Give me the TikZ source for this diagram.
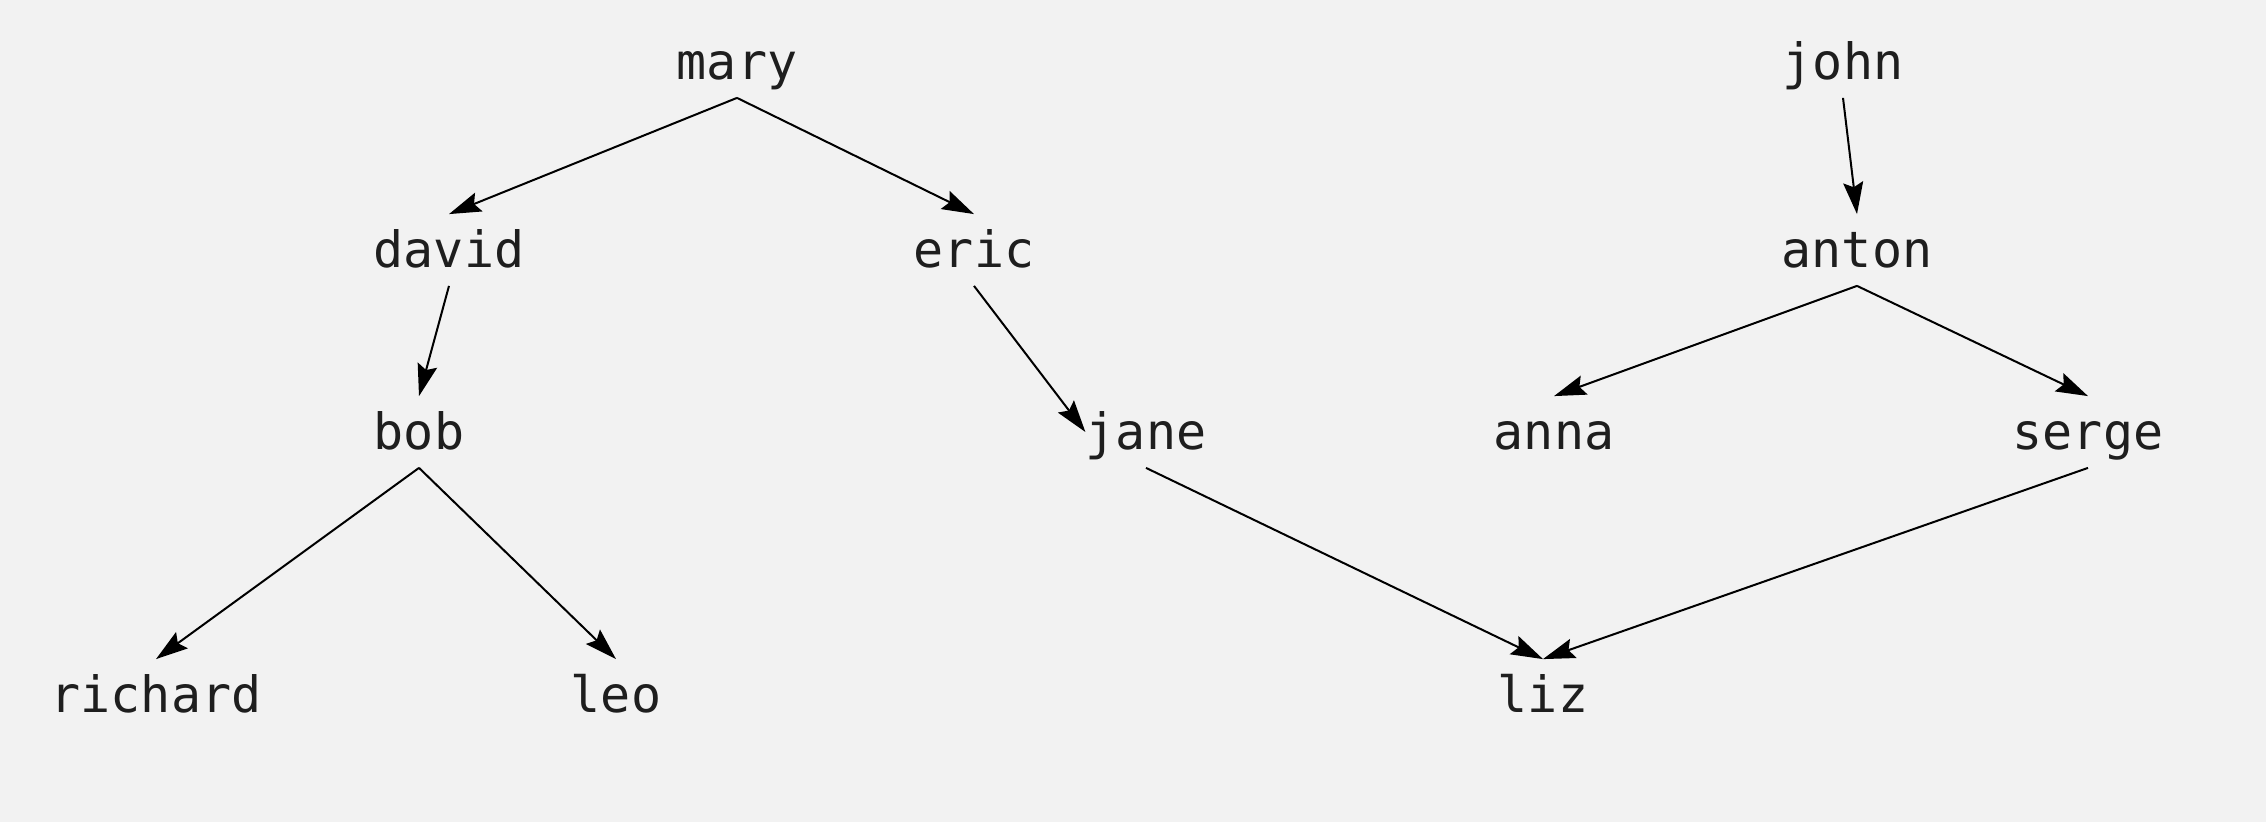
\documentclass[tikz,border=0pt]{standalone}
\usepackage{fontspec}
\setmonofont{DejaVu Sans Mono}
\usetikzlibrary{arrows.meta}
\definecolor{bg}{HTML}{F2F2F2}
\definecolor{txt}{HTML}{1E1E1E}
\begin{document}
\begin{tikzpicture}[x=0.5pt,y=-0.5pt,
  person/.style={font=\ttfamily\fontsize{25}{30}\selectfont, text=txt, inner sep=0pt,
    text height=21pt, text depth=3pt, minimum height=35.5pt},
  link/.style={-{Stealth[length=16pt,width=10pt,inset=2.5pt]}, line width=1pt, black}]
\fill[bg] (0,0) rectangle (2266,822);
\useasboundingbox (0,0) rectangle (2266,822);
% row 1
\node[person] (mary) at (737,62) {mary};
\node[person] (john) at (1843,62) {john};
% row 2
\node[person] (david) at (449,250) {david};
\node[person] (eric) at (974,250) {eric};
\node[person] (anton) at (1857,250) {anton};
% row 3
\node[person] (bob) at (419,432) {bob};
\node[person] (jane) at (1146,432) {jane};
\node[person] (anna) at (1554,432) {anna};
\node[person] (serge) at (2088,432) {serge};
% row 4
\node[person] (richard) at (156,695) {richard};
\node[person] (leo) at (616,695) {leo};
\node[person] (liz) at (1543,695) {liz};
% edges
\draw[link] (mary.south) -- (david.north);
\draw[link] (mary.south) -- (eric.north);
\draw[link] (david.south) -- (bob.north);
\draw[link] (eric.south) -- (jane.west);
\draw[link] (bob.south) -- (richard.north);
\draw[link] (bob.south) -- (leo.north);
\draw[link] (jane.south) -- (liz.north);
\draw[link] (john.south) -- (anton.north);
\draw[link] (anton.south) -- (anna.north);
\draw[link] (anton.south) -- (serge.north);
\draw[link] (serge.south) -- (liz.north);
\end{tikzpicture}
\end{document}
